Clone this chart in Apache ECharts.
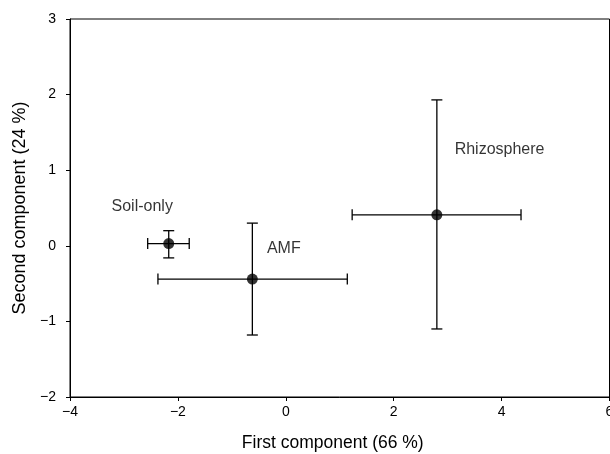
<!DOCTYPE html>
<html><head><meta charset="utf-8">
<script src="https://cdn.jsdelivr.net/npm/echarts@6/dist/echarts.min.js"></script>
<style>html,body{margin:0;padding:0;background:#fff}#c{width:610px;height:454px}</style>
</head><body><div id="c"></div>
<script>
const groups = ['Soil-only', 'AMF', 'Rhizosphere'];
const meanX = [-2.17, -0.62, 2.80];
const meanY = [0.03, -0.44, 0.41];
const xLow = [-2.56, -2.37, 1.23];
const xHigh = [-1.79, 1.14, 4.36];
const yLow = [-0.16, -1.18, -1.10];
const yHigh = [0.20, 0.30, 1.93];
const labelX = [-3.23, -0.35, 3.13];
const labelY = [0.52, -0.04, 1.27];
const xTicks = [-4, -2, 0, 2, 4, 6];
const yTicks = [-2, -1, 0, 1, 2, 3];

const font = 'Liberation Sans, Arial, sans-serif';
const minus = v => String(v).replace('-', '\u2212');
const chart = echarts.init(document.getElementById('c'));
const errData = groups.map((g, i) => [meanX[i], meanY[i], xLow[i], xHigh[i], yLow[i], yHigh[i]]);
chart.setOption({
  animation: false,
  grid: {left: 70, right: 0.5, top: 19, bottom: 57, show: true, borderColor: '#000', borderWidth: 1,
    containLabel: false, outerBoundsMode: 'none'},
  xAxis: {
    type: 'value', min: xTicks[0], max: xTicks[xTicks.length - 1], interval: 2,
    name: 'First component (66 %)', nameLocation: 'middle', nameGap: 37,
    nameTextStyle: {fontFamily: font, fontSize: 17.5, color: '#000', padding: [0, 14, 0, 0]},
    axisLine: {show: true, onZero: false, lineStyle: {color: '#000'}},
    axisTick: {show: true, length: 4, lineStyle: {color: '#000'}},
    axisLabel: {fontFamily: font, fontSize: 14, color: '#000', margin: 8, formatter: minus},
    splitLine: {show: false}
  },
  yAxis: {
    type: 'value', min: yTicks[0], max: yTicks[yTicks.length - 1], interval: 1,
    name: 'Second component (24 %)', nameLocation: 'middle', nameGap: 41,
    nameTextStyle: {fontFamily: font, fontSize: 18, color: '#000'},
    axisLine: {show: true, onZero: false, lineStyle: {color: '#000'}},
    axisTick: {show: true, length: 4, lineStyle: {color: '#000'}},
    axisLabel: {fontFamily: font, fontSize: 14, color: '#000', margin: 14, formatter: minus},
    splitLine: {show: false}
  },
  series: [
    {
      type: 'custom',
      data: errData,
      renderItem: function (params, api) {
        const cx = api.value(0), cy = api.value(1);
        const l = api.coord([api.value(2), cy]);
        const r = api.coord([api.value(3), cy]);
        const b = api.coord([cx, api.value(4)]);
        const t = api.coord([cx, api.value(5)]);
        const c = 5.5;
        const st = {stroke: '#000', lineWidth: 1.3};
        const ln = (x1, y1, x2, y2) => ({type: 'line', shape: {x1, y1, x2, y2}, style: st});
        return {type: 'group', children: [
          ln(l[0], l[1], r[0], r[1]),
          ln(l[0], l[1] - c, l[0], l[1] + c),
          ln(r[0], r[1] - c, r[0], r[1] + c),
          ln(t[0], t[1], b[0], b[1]),
          ln(t[0] - c, t[1], t[0] + c, t[1]),
          ln(b[0] - c, b[1], b[0] + c, b[1])
        ]};
      },
      z: 2
    },
    {
      type: 'scatter',
      data: groups.map((g, i) => [meanX[i], meanY[i]]),
      symbol: 'circle', symbolSize: 11,
      itemStyle: {color: '#000'},
      z: 3
    },
    {
      type: 'scatter',
      data: groups.map((g, i) => ({value: [labelX[i], labelY[i]], name: g})),
      symbolSize: 0,
      itemStyle: {color: '#000'},
      label: {show: true, position: 'right', distance: 0, formatter: p => p.name,
        fontFamily: font, fontSize: 16, color: '#000'},
      z: 4
    }
  ]
});
</script></body></html>
